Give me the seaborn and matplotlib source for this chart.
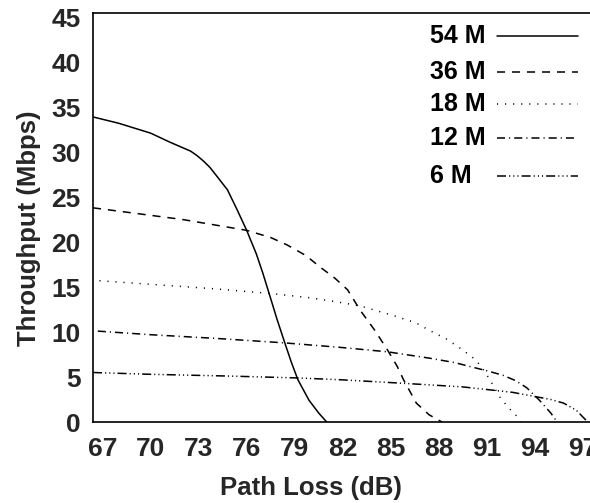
import matplotlib
matplotlib.use("Agg")
import matplotlib.pyplot as plt
import seaborn as sns
import pandas as pd
from matplotlib.lines import Line2D

# ---- data ----
series_names = ["54 M", "36 M", "18 M", "12 M", "6 M"]

x_54 = [66.4, 68, 70, 71.2, 72.5, 72.9, 73.3, 73.7, 74.1, 74.8, 75.4, 76.0, 76.6, 77.0,
        77.4, 77.9, 78.4, 78.8, 79.2, 79.9, 80.5, 81.0]
y_54 = [33.9, 33.2, 32.1, 31.1, 30.1, 29.6, 29.0, 28.3, 27.4, 25.8, 23.6, 21.3, 18.7, 16.6,
        14.3, 11.4, 8.7, 6.6, 4.7, 2.4, 1.0, 0.0]

x_36 = [66.4, 69, 72, 74, 76, 77.5, 78.5, 79.7, 80.6, 81.5, 82.3, 83.1, 84.0, 84.8,
        85.4, 85.8, 86.6, 87.4, 88.2]
y_36 = [23.8, 23.2, 22.5, 21.9, 21.3, 20.5, 19.7, 18.5, 17.2, 16.0, 14.7, 12.4, 10.2, 8.0,
        6.2, 4.7, 2.1, 0.8, 0.0]

x_18 = [66.8, 70, 74, 77.4, 80, 81.8, 83.1, 85.4, 86.6, 87.4, 88.5, 89.5, 90.1, 90.6,
        91.2, 91.8, 92.4, 92.9, 93.1]
y_18 = [15.7, 15.3, 14.8, 14.3, 13.8, 13.3, 12.9, 11.7, 11.0, 10.2, 9.2, 8.0, 7.2, 6.3,
        4.7, 2.8, 1.5, 0.6, 0.0]

x_12 = [66.7, 70, 74, 78.3, 81.8, 84.8, 87.4, 89, 90.1, 91.2, 92.0, 92.8, 93.5, 94.3,
        95.0, 95.4]
y_12 = [10.1, 9.7, 9.3, 8.8, 8.3, 7.8, 7.1, 6.6, 6.1, 5.6, 5.2, 4.6, 3.8, 2.4, 1.0, 0.0]

x_6 = [66.4, 70, 75, 79.1, 81.8, 85.8, 89.5, 92.6, 94.1, 95.0, 95.8, 96.6, 97.2, 97.3]
y_6 = [5.5, 5.3, 5.1, 4.9, 4.7, 4.3, 3.9, 3.3, 2.8, 2.5, 2.1, 1.3, 0.2, 0.0]

x_ticks = [67, 70, 73, 76, 79, 82, 85, 88, 91, 94, 97]
y_ticks = [0, 5, 10, 15, 20, 25, 30, 35, 40, 45]

# ---- build long table ----
frames = []
for name, xs, ys in zip(series_names, [x_54, x_36, x_18, x_12, x_6],
                        [y_54, y_36, y_18, y_12, y_6]):
    frames.append(pd.DataFrame({"loss": xs, "thr": ys, "series": name}))
df = pd.concat(frames, ignore_index=True)

sns.set_theme(style="white")
plt.rcParams["font.family"] = ["Liberation Sans", "DejaVu Sans"]
plt.rcParams["font.weight"] = "bold"
plt.rcParams["lines.scale_dashes"] = False

dash_map = {
    "54 M": "",
    "36 M": (5.8, 5.0),
    "18 M": (0.8, 5.0),
    "12 M": (5.8, 2.9, 0.8, 2.9),
    "6 M": (6.5, 2.2, 0.8, 2.2, 0.8, 2.2, 0.8, 2.2),
}

W, H = 590, 503
AX_L, AX_R, AX_T, AX_B = 93, 590, 13, 422

fig = plt.figure(figsize=(W / 100, H / 100), dpi=100)
ax = fig.add_axes([AX_L / W, 1 - AX_B / H, (AX_R - AX_L) / W, (AX_B - AX_T) / H])

sns.lineplot(data=df, x="loss", y="thr", style="series", dashes=dash_map,
             color="black", linewidth=1.1, sort=False, estimator=None,
             legend=False, ax=ax)

ax.set_xlim(66.4, 97.45)
ax.set_ylim(0, 45.45)
ax.set_xticks(x_ticks)
ax.set_yticks(y_ticks)
ax.tick_params(axis="both", length=0, labelsize=19)
ax.tick_params(axis="x", pad=11)
ax.tick_params(axis="y", pad=9)
for lab in ax.get_xticklabels() + ax.get_yticklabels():
    lab.set_fontweight("bold")


def fx(px):
    return (px - AX_L) / (AX_R - AX_L)


def fy(py):
    return (AX_B - py) / (AX_B - AX_T)


ax.set_xlabel("Path Loss (dB)", fontsize=18.5, fontweight="bold")
ax.set_ylabel("Throughput (Mbps)", fontsize=18.5, fontweight="bold")
ax.xaxis.set_label_coords(fx(311), fy(476))
ax.yaxis.set_label_coords(fx(41), fy(228))

for s in ["left", "top", "bottom"]:
    ax.spines[s].set_visible(True)
    ax.spines[s].set_color("black")
    ax.spines[s].set_linewidth(1.2)
ax.spines["right"].set_visible(False)

# ---- legend: left-aligned text, line sample to the right ----
legend_rows_px = [36, 72, 104, 138, 176]
for name, py in zip(series_names, legend_rows_px):
    ax.text(fx(430), fy(py), name, transform=ax.transAxes, ha="left", va="center",
            fontsize=18, fontweight="bold", color="black")
    ls = "-" if dash_map[name] == "" else (0, dash_map[name])
    ax.add_line(Line2D([fx(497), fx(578)], [fy(py), fy(py)], transform=ax.transAxes,
                       color="black", linewidth=1.1, linestyle=ls, clip_on=False))

fig.savefig("out.png", dpi=100)
